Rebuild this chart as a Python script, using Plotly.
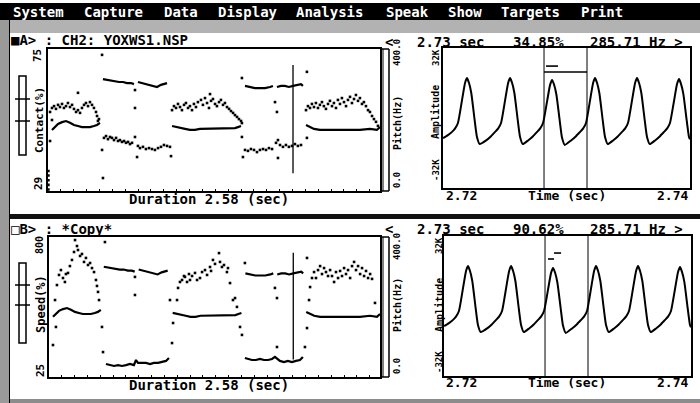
import plotly.graph_objects as go

W, H = 700, 403
FONT = "DejaVu Sans Mono"

# ---------------- data ----------------
duration = 2.58
# pitch track (sec, Hz); (None, None) = unvoiced gap
pitch_pts = [
    (0.031, 172), (0.054, 180), (0.078, 189), (0.109, 194), (0.140, 197), (0.171, 192), (0.202, 186),
    (0.233, 183), (0.264, 180), (0.295, 180), (0.326, 180), (0.357, 183), (0.381, 186), (0.404, 192),
    (None, None),
    (0.427, 315), (0.458, 313), (0.490, 310), (0.521, 310), (0.552, 307), (0.583, 307), (0.614, 304),
    (0.645, 304), (0.668, 301),
    (None, None),
    (0.699, 307), (0.730, 304), (0.761, 301), (0.793, 299), (0.824, 296), (0.847, 293), (0.878, 299),
    (0.909, 301), (0.925, 304),
    (None, None),
    (0.964, 183), (0.995, 180), (1.026, 177), (1.065, 175), (1.103, 172), (1.142, 172), (1.181, 175),
    (1.220, 175), (1.259, 175), (1.298, 175), (1.336, 175), (1.375, 177), (1.414, 177), (1.453, 177),
    (1.476, 180), (1.500, 183),
    (None, None),
    (1.531, 296), (1.570, 293), (1.608, 290), (1.647, 290), (1.686, 290), (1.725, 293), (1.748, 296),
    (None, None),
    (1.779, 293), (1.810, 296), (1.841, 296), (1.872, 293), (1.904, 296), (1.935, 299), (1.966, 301),
    (1.981, 296),
    (None, None),
    (2.005, 186), (2.036, 180), (2.067, 175), (2.113, 172), (2.191, 172), (2.269, 172), (2.347, 172),
    (2.424, 172), (2.502, 175), (2.556, 172), (2.580, 180),
]

# contact quotient (sec, %)
contact_pts = [
    (0.003, 29.5), (0.003, 31.0), (0.003, 32.5), (0.003, 34.0), (0.003, 35.5),
    (0.016, 54.6), (0.031, 55.9), (0.047, 56.5), (0.062, 55.6), (0.078, 56.9), (0.093, 56.2), (0.109, 57.2),
    (0.124, 55.9), (0.140, 56.5), (0.155, 57.5), (0.171, 56.2), (0.187, 56.9), (0.202, 55.6), (0.218, 54.6),
    (0.233, 55.2), (0.249, 54.3), (0.264, 55.9), (0.280, 56.9), (0.295, 57.5), (0.311, 56.5), (0.326, 57.8),
    (0.342, 56.9), (0.357, 55.9), (0.373, 54.6), (0.381, 53.3), (0.388, 51.7), (0.396, 52.3),
    (0.233, 60.8), (0.031, 52.0), (0.016, 45.2),
    (0.435, 46.2), (0.451, 46.8), (0.466, 45.8), (0.482, 46.5), (0.497, 46.2), (0.513, 45.5), (0.529, 46.2),
    (0.544, 45.2), (0.559, 45.5), (0.575, 44.9), (0.591, 45.2), (0.606, 44.6), (0.622, 44.9), (0.637, 44.2),
    (0.653, 44.6), (0.699, 43.6), (0.715, 42.9), (0.738, 43.3), (0.761, 42.6), (0.785, 42.9), (0.808, 42.6),
    (0.831, 42.3), (0.855, 42.9), (0.878, 43.3), (0.901, 43.9), (0.925, 43.6),
    (0.420, 73.1), (0.420, 42.3), (0.427, 33.2), (0.676, 61.7), (0.676, 55.9), (0.676, 46.5),
    (0.692, 40.0), (0.956, 40.3), (0.948, 43.3),
    (0.964, 55.2), (0.979, 56.5), (0.995, 55.9), (1.010, 57.2), (1.026, 56.2), (1.041, 55.2), (1.057, 56.9),
    (1.072, 57.5), (1.088, 55.9), (1.103, 56.5), (1.119, 55.2), (1.134, 57.2), (1.150, 56.2), (1.165, 57.8),
    (1.189, 58.5), (1.204, 56.9), (1.220, 59.1), (1.236, 57.5), (1.251, 55.9), (1.267, 58.2), (1.282, 58.8),
    (1.298, 57.2), (1.313, 56.5), (1.329, 57.8), (1.344, 58.5), (1.360, 56.9), (1.375, 57.5), (1.391, 56.2),
    (1.407, 55.6), (1.422, 54.9), (1.438, 54.3), (1.453, 53.6), (1.469, 53.0), (1.484, 52.3), (1.500, 51.7),
    (1.507, 51.0), (1.259, 60.4), (1.507, 46.5),
    (1.531, 42.3), (1.554, 42.0), (1.577, 42.6), (1.601, 42.3), (1.624, 41.6), (1.647, 42.3), (1.671, 42.6),
    (1.694, 42.3), (1.717, 42.9), (1.741, 42.6), (1.772, 44.6), (1.787, 45.5), (1.803, 43.9), (1.826, 43.3),
    (1.849, 43.9), (1.872, 43.3), (1.896, 43.6), (1.919, 44.2), (1.942, 43.6), (1.966, 43.9),
    (1.515, 40.0), (1.507, 65.6), (1.764, 57.8), (1.779, 54.6), (2.012, 67.6), (2.012, 46.2), (1.787, 39.7),
    (2.005, 55.2), (2.020, 56.5), (2.036, 55.9), (2.051, 57.2), (2.067, 56.2), (2.082, 57.5), (2.098, 55.9),
    (2.113, 56.9), (2.129, 57.8), (2.144, 56.5), (2.160, 55.6), (2.176, 57.2), (2.191, 58.2), (2.207, 56.5),
    (2.222, 57.5), (2.238, 55.9), (2.253, 58.5), (2.269, 57.2), (2.284, 59.1), (2.300, 57.8), (2.316, 56.5),
    (2.331, 58.5), (2.347, 59.5), (2.362, 57.5), (2.378, 58.8), (2.393, 60.1), (2.409, 58.2), (2.424, 59.1),
    (2.440, 57.2), (2.455, 57.8), (2.471, 56.5), (2.487, 55.2), (2.502, 54.6), (2.518, 53.3), (2.533, 52.3),
    (2.549, 51.4), (2.564, 50.1),
]

# speed (sec, %) - scattered part
speed_pts = [
    (0.031, 202), (0.047, 451), (0.054, 302), (0.062, 534), (0.078, 590), (0.093, 617), (0.109, 573),
    (0.124, 551), (0.132, 595), (0.148, 601), (0.163, 639), (0.179, 673), (0.195, 717), (0.203, 783),
    (0.218, 750), (0.226, 728), (0.242, 695), (0.257, 706), (0.273, 662), (0.288, 684), (0.304, 645),
    (0.320, 656), (0.335, 628), (0.351, 606), (0.366, 562), (0.374, 529), (0.382, 496), (0.390, 451),
    (0.413, 302), (0.421, 163), (0.436, 772),
    (0.670, 579), (0.670, 479), (0.959, 213), (0.943, 451),
    (0.967, 324), (0.998, 451), (1.006, 518), (1.021, 551), (1.037, 562), (1.052, 584), (1.060, 579),
    (1.076, 551), (1.091, 595), (1.099, 562), (1.115, 584), (1.138, 601), (1.154, 562), (1.177, 573),
    (1.193, 606), (1.216, 617), (1.232, 590), (1.255, 634), (1.263, 612), (1.278, 673), (1.294, 651),
    (1.325, 711), (1.333, 662), (1.348, 634), (1.364, 645), (1.387, 606), (1.395, 628), (1.411, 545),
    (1.434, 451), (1.450, 462), (1.465, 413), (1.489, 302), (1.504, 258),
    (1.527, 656), (1.761, 518), (1.777, 462), (1.777, 191), (2.011, 684), (2.011, 296), (1.995, 191),
    (2.027, 451), (2.035, 523), (2.050, 573), (2.066, 606), (2.081, 573), (2.097, 617), (2.113, 639),
    (2.128, 595), (2.144, 628), (2.159, 606), (2.175, 584), (2.191, 617), (2.206, 584), (2.222, 551),
    (2.237, 606), (2.253, 573), (2.269, 612), (2.284, 584), (2.300, 628), (2.315, 595), (2.331, 617),
    (2.347, 573), (2.362, 639), (2.378, 662), (2.393, 617), (2.409, 639), (2.425, 595), (2.440, 628),
    (2.456, 584), (2.471, 612), (2.487, 573), (2.503, 595), (2.518, 568), (2.541, 435),
]
# speed (sec, %) - steady low part during falsetto
speed_low_pts = [
    (0.444, 97), (0.475, 91), (0.507, 86), (0.538, 91), (0.569, 86), (0.600, 91), (0.631, 97), (0.662, 91),
    (0.678, 119), (0.694, 103), (0.725, 103), (0.756, 103), (0.787, 97), (0.818, 103), (0.850, 103),
    (0.881, 108), (0.912, 114), (0.935, 130),
    (None, None),
    (1.527, 130), (1.551, 125), (1.582, 119), (1.613, 119), (1.644, 125), (1.676, 119), (1.707, 119),
    (1.738, 125), (1.761, 136), (1.800, 114), (1.831, 108), (1.862, 114), (1.893, 108), (1.925, 114),
    (1.956, 119), (1.979, 136),
]

cursor_time = 1.904
cursor_span_hz = [50, 355]

# waveform (sec, amplitude)
wave_pts = [
    (2.72000, -9400), (2.72040, -8000), (2.72073, -6500), (2.72097, -5000), (2.72121, -2340),
    (2.72154, 8400), (2.72178, 16300), (2.72194, 18700), (2.72210, 16500), (2.72229, 11700),
    (2.72256, -900), (2.72275, -8900), (2.72297, -12200),
    (2.72349, -10500), (2.72389, -8500), (2.72422, -6500), (2.72446, -5000), (2.72470, -2340),
    (2.72503, 8400), (2.72527, 16300), (2.72543, 18700), (2.72559, 16500), (2.72578, 11700),
    (2.72605, -900), (2.72624, -8900), (2.72646, -12200),
    (2.72689, -10500), (2.72729, -8500), (2.72762, -6500), (2.72786, -5000), (2.72810, -2340),
    (2.72843, 7900), (2.72867, 15500), (2.72883, 17800), (2.72899, 15700), (2.72918, 11000),
    (2.72945, -1200), (2.72964, -9300), (2.72986, -12600),
    (2.73037, -10500), (2.73077, -8500), (2.73110, -6500), (2.73134, -5000), (2.73158, -2340),
    (2.73191, 8400), (2.73215, 16300), (2.73231, 18700), (2.73247, 16500), (2.73266, 11700),
    (2.73293, -900), (2.73312, -8900), (2.73334, -12200),
    (2.73377, -10500), (2.73417, -8500), (2.73450, -6500), (2.73474, -5000), (2.73498, -2340),
    (2.73531, 8400), (2.73555, 16300), (2.73571, 18700), (2.73587, 16500), (2.73606, 11700),
    (2.73633, -900), (2.73652, -8900), (2.73674, -12200),
    (2.73717, -10500), (2.73757, -8500), (2.73790, -6500), (2.73814, -5000), (2.73838, -2340),
    (2.73871, 8100), (2.73895, 15900), (2.73911, 18200), (2.73927, 16000), (2.73946, 11300),
    (2.73973, -1000), (2.73992, -8900), (2.74000, -10000),
]
wave_range = [2.72, 2.74]
amp_range = [-32768, 32767]
wave_cursors = [2.72818, 2.73166]
period_mark_A = [((2.72818, 2.73166), 21500), ((2.72834, 2.72931), 24300)]
period_mark_B = [((2.72842, 2.72891), 22000), ((2.72891, 2.72948), 24800)]

menu_items = [("System", 12), ("Capture", 83), ("Data", 163), ("Display", 217), ("Analysis", 295),
              ("Speak", 385), ("Show", 447), ("Targets", 500), ("Print", 580)]


def unzip(pts):
    return [p[0] for p in pts], [p[1] for p in pts]


fig = go.Figure()
mk = dict(color="black", size=2.6, symbol="square")
ln = dict(color="black", width=2.2)

pt, ph = unzip(pitch_pts)
ct, cv = unzip(contact_pts)
st, sv = unzip(speed_pts)
slt, slv = unzip(speed_low_pts)
wt, wv = unzip(wave_pts)

# Panel A left
fig.add_trace(go.Scatter(x=ct, y=cv, mode="markers", marker=mk, xaxis="x", yaxis="y"))
fig.add_trace(go.Scatter(x=pt, y=ph, mode="lines", line=ln, xaxis="x", yaxis="y2"))
fig.add_trace(go.Scatter(x=[cursor_time, cursor_time], y=cursor_span_hz, mode="lines",
                         line=dict(color="black", width=1.3), xaxis="x", yaxis="y2"))
# Panel B left
fig.add_trace(go.Scatter(x=st, y=sv, mode="markers", marker=mk, xaxis="x4", yaxis="y4"))
fig.add_trace(go.Scatter(x=slt, y=slv, mode="lines", line=ln, xaxis="x4", yaxis="y4"))
fig.add_trace(go.Scatter(x=pt, y=ph, mode="lines", line=ln, xaxis="x4", yaxis="y5"))
fig.add_trace(go.Scatter(x=[cursor_time, cursor_time], y=cursor_span_hz, mode="lines",
                         line=dict(color="black", width=1.3), xaxis="x4", yaxis="y5"))

# Waveforms
for xa, ya, marks in (("x3", "y3", period_mark_A), ("x6", "y6", period_mark_B)):
    fig.add_trace(go.Scatter(x=wt, y=wv, mode="lines",
                             line=dict(color="black", width=2, shape="spline", smoothing=0.5),
                             xaxis=xa, yaxis=ya))
    for c in wave_cursors:
        fig.add_trace(go.Scatter(x=[c, c], y=amp_range, mode="lines", line=dict(color="black", width=1),
                                 xaxis=xa, yaxis=ya))
    for (x0, x1), a in marks:
        fig.add_trace(go.Scatter(x=[x0, x1], y=[a, a], mode="lines", line=dict(color="black", width=1.6),
                                 xaxis=xa, yaxis=ya))


def dom_x(a, b):
    return [a / W, b / W]


def dom_y(top, bot):
    return [1 - bot / H, 1 - top / H]


base = dict(showline=True, mirror=True, linecolor="black", showgrid=False, zeroline=False,
            showticklabels=False, ticks="", fixedrange=True)

fig.update_layout(
    width=W, height=H, margin=dict(l=0, r=0, t=0, b=0),
    paper_bgcolor="white", plot_bgcolor="white", showlegend=False,
    xaxis=dict(base, domain=dom_x(48, 380), range=[0, duration], anchor="y", linewidth=2,
               ticks="inside", ticklen=2, tickwidth=1, dtick=0.1, tickcolor="black"),
    yaxis=dict(base, domain=dom_y(49, 191), range=[29, 75], anchor="x", linewidth=2),
    yaxis2=dict(base, overlaying="y", range=[0, 400], anchor="x", showline=False),
    xaxis3=dict(base, domain=dom_x(443, 690), range=wave_range, anchor="y3", linewidth=1.5),
    yaxis3=dict(base, domain=dom_y(48, 188), range=amp_range, anchor="x3", linewidth=1.5),
    xaxis4=dict(base, domain=dom_x(49, 380), range=[0, duration], anchor="y4", linewidth=2,
                ticks="inside", ticklen=2, tickwidth=1, dtick=0.1, tickcolor="black"),
    yaxis4=dict(base, domain=dom_y(237, 377), range=[25, 800], anchor="x4", linewidth=2),
    yaxis5=dict(base, overlaying="y4", range=[0, 400], anchor="x4", showline=False),
    xaxis6=dict(base, domain=dom_x(444, 691), range=wave_range, anchor="y6", linewidth=1.5),
    yaxis6=dict(base, domain=dom_y(236, 376), range=amp_range, anchor="x6", linewidth=1.5),
)

shapes = []


def rect(x0, y0, x1, y1, fill=None, line_w=0, layer="above"):
    shapes.append(dict(type="rect", xref="paper", yref="paper", x0=x0 / W, x1=x1 / W,
                       y0=1 - y1 / H, y1=1 - y0 / H, fillcolor=fill or "rgba(0,0,0,0)",
                       line=dict(color="black", width=line_w), layer=layer))


def seg(x0, y0, x1, y1, w=1):
    shapes.append(dict(type="line", xref="paper", yref="paper", x0=x0 / W, x1=x1 / W,
                       y0=1 - y0 / H, y1=1 - y1 / H, line=dict(color="black", width=w)))


# menu bar and dithered chrome
rect(0, 3, 700, 20, fill="black", layer="below")
rect(0, 20, 700, 33, fill="#b2b2b2", layer="below")
rect(0, 20, 9, 403, fill="#9a9a9a", layer="below")
seg(9.5, 20, 9.5, 403, 1)
rect(9, 214, 700, 219, fill="#111111", layer="below")
rect(9, 399, 700, 403, fill="#8c8c8c", layer="below")

# sliders
for top, bot, t1, t2 in ((76, 155, 99, 121), (263, 343, 285, 305)):
    rect(19, top, 26, bot, line_w=1.5)
    seg(15, t1, 30, t1, 1.5)
    seg(15, t2, 30, t2, 1.5)

# side column next to pitch axis
for top, bot in ((49, 191), (237, 377)):
    seg(383, top, 383, bot, 1)
    seg(389, top, 389, bot, 1.5)
    seg(380, top, 389, top, 1.5)
    seg(380, bot, 389, bot, 1.5)

fig.update_layout(shapes=shapes)


def label(x, y, s, size=13, angle=0, color="black", xanchor="center"):
    fig.add_annotation(x=x / W, y=1 - y / H, xref="paper", yref="paper", text=s, showarrow=False,
                       textangle=angle, xanchor=xanchor, yanchor="middle", borderpad=0,
                       font=dict(family=FONT, size=size, color=color, weight="bold"))


for name, x in menu_items:
    label(x, 12, name, size=14, color="white", xanchor="left")

# headers
label(10, 40, "■A> : CH2: YOXWS1.NSP", size=14, xanchor="left")
label(10, 229, "□B> : *Copy*", size=14, xanchor="left")
for y, pct in ((42, "34.85%"), (229, "90.62%")):
    label(389, y, "<", size=14)
    label(416, y, "2.73 sec", size=14, xanchor="left")
    label(512, y, pct, size=14, xanchor="left")
    label(589, y, "285.71 Hz >", size=14, xanchor="left")

# left axis labels
label(38, 56, "75", size=11, angle=-90)
label(40, 120, "Contact(%)", size=11, angle=-90)
label(38, 184, "29", size=11, angle=-90)
label(40, 245, "800", size=10, angle=-90)
label(41, 304, "Speed(%)", size=12, angle=-90)
label(40, 371, "25", size=11, angle=-90)

# pitch axis labels
for top, mid, bot in ((53, 123, 180), (247, 305, 366)):
    label(397, top, "400.0", size=9, angle=-90)
    label(397, mid, "Pitch(Hz)", size=10, angle=-90)
    label(397, bot, "0.0", size=9, angle=-90)

# amplitude axis labels
for x, top, mid, bot in ((436, 58, 112, 170), (439, 246, 305, 362)):
    label(x, top, "32K", size=9, angle=-90)
    label(x, mid, "Amplitude", size=10, angle=-90)
    label(x, bot, "-32K", size=9, angle=-90)

# bottom labels
label(209, 199, "Duration 2.58 (sec)", size=14)
label(209, 385, "Duration 2.58 (sec)", size=14)
for y in (195, 382):
    label(461, y, "2.72", size=13)
    label(567, y, "Time (sec)", size=13)
    label(672, y, "2.74", size=13)

fig.write_html("out.html")
